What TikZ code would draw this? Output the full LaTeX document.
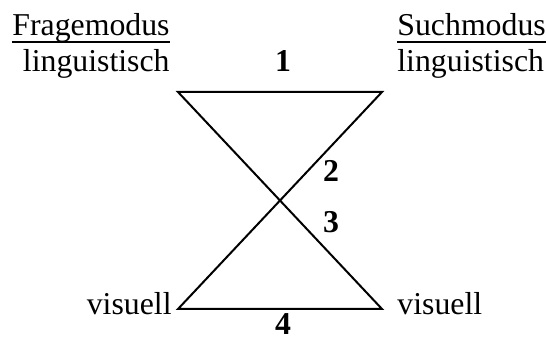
\documentclass[tikz,border=0pt]{standalone}
\usepackage{fontspec}
\setmainfont{Liberation Serif}
\begin{document}
\begin{tikzpicture}[x=0.5pt,y=-0.5pt,
  lbl/.style={inner sep=0pt,font=\fontsize{15.9}{19}\selectfont},
  num/.style={lbl,font=\fontsize{15.9}{19}\selectfont\bfseries},
  edge/.style={line width=1pt},
  uline/.style={line width=0.9pt}
]
\useasboundingbox (0,0) rectangle (546,341);
% corners of the two triangles
\coordinate (tl) at (178,92);
\coordinate (tr) at (382,92);
\coordinate (bl) at (178,309);
\coordinate (br) at (382,309);
\draw[edge] (tl) -- (tr) -- (bl) -- (br) -- cycle;
% mode labels
\node[lbl,anchor=base east] (frage)    at (170,36)  {Fragemodus};
\node[lbl,anchor=base east] (frageling) at (170,72) {linguistisch};
\node[lbl,anchor=base east] (fragevis) at (172,315) {visuell};
\node[lbl,anchor=base west] (such)     at (397,36)  {Suchmodus};
\node[lbl,anchor=base west] (suchling) at (397,72)  {linguistisch};
\node[lbl,anchor=base west] (suchvis)  at (397,315) {visuell};
\draw[uline] ([yshift=-3pt]frage.base west) -- ([yshift=-3pt]frage.base east);
\draw[uline] ([yshift=-3pt]such.base west) -- ([yshift=-3pt]such.base east);
% numbers
\node[num,anchor=base] (n1) at (283,72)  {1};
\node[num,anchor=base] (n2) at (331,182) {2};
\node[num,anchor=base] (n3) at (331,233) {3};
\node[num,anchor=base] (n4) at (283,335) {4};
\end{tikzpicture}
\end{document}
